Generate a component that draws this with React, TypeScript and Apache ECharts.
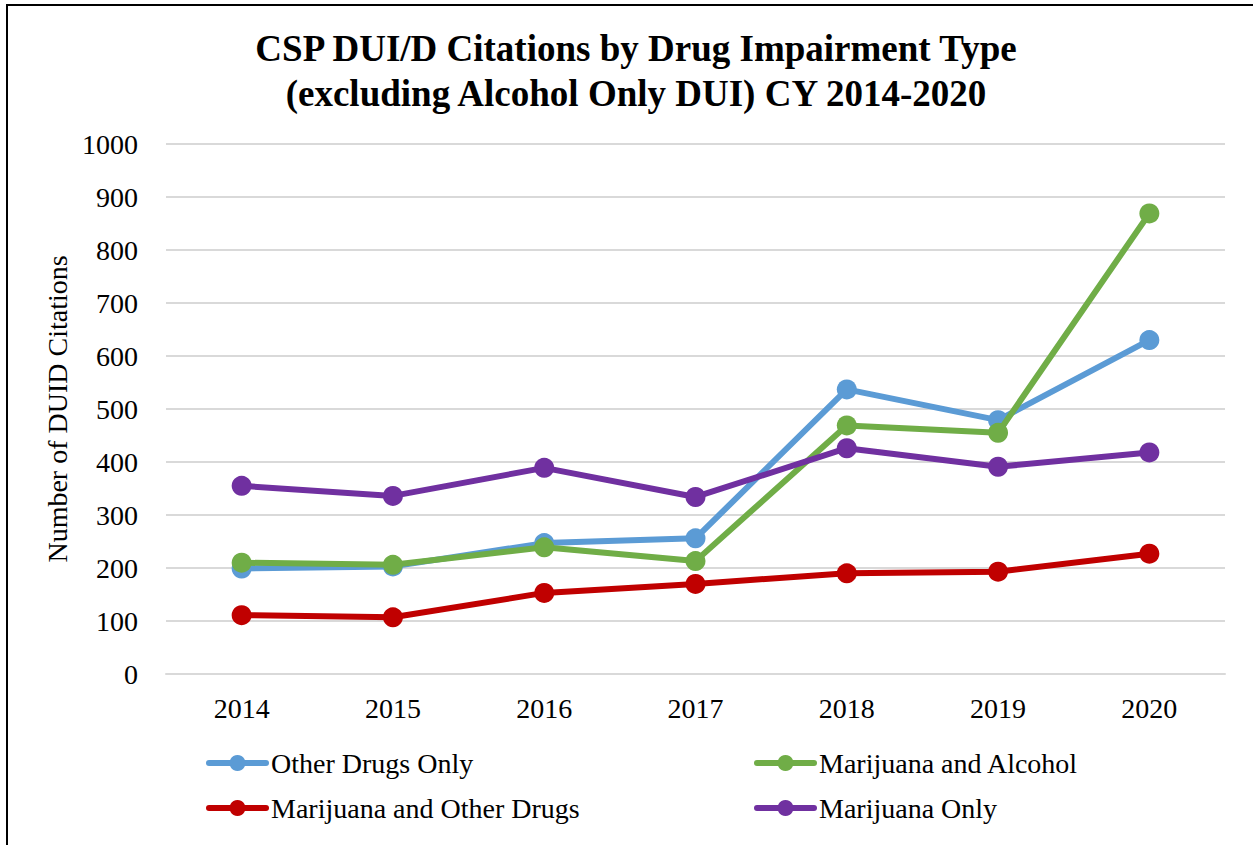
import React, { useEffect, useRef } from "react";
import * as echarts from "echarts";

const years = ["2014", "2015", "2016", "2017", "2018", "2019", "2020"];
const otherDrugsOnly = [199, 203, 247, 256, 537, 479, 630];
const marijuanaAndAlcohol = [210, 206, 239, 213, 469, 455, 869];
const marijuanaAndOtherDrugs = [111, 107, 153, 170, 190, 193, 227];
const marijuanaOnly = [355, 336, 389, 334, 426, 391, 418];

const seriesNames = [
  "Other Drugs Only",
  "Marijuana and Alcohol",
  "Marijuana and Other Drugs",
  "Marijuana Only",
];
const seriesColors = ["#5B9BD5", "#70AD47", "#C00000", "#7030A0"];
const seriesData = [otherDrugsOnly, marijuanaAndAlcohol, marijuanaAndOtherDrugs, marijuanaOnly];

const FONT = "Liberation Serif";

export default function App() {
  const ref = useRef<HTMLDivElement>(null);
  useEffect(() => {
    if (!ref.current) return;
    const chart = echarts.init(ref.current, null, { renderer: "svg" });
    const legendPos = [
      { left: 206, top: 749 },
      { left: 754, top: 749 },
      { left: 206, top: 794 },
      { left: 754, top: 794 },
    ];
    chart.setOption({
      animation: false,
      backgroundColor: "#ffffff",
      textStyle: { fontFamily: FONT },
      title: {
        text: "CSP DUI/D Citations by Drug Impairment Type\n(excluding Alcohol Only DUI) CY 2014-2020",
        left: 631,
        top: 21,
        textAlign: "center",
        textStyle: {
          fontFamily: FONT,
          fontWeight: "bold",
          fontSize: 37,
          lineHeight: 45,
          color: "#000000",
        },
      },
      legend: seriesNames.map((n, i) => ({
        data: [n],
        left: legendPos[i].left,
        top: legendPos[i].top,
        padding: 0,
        itemWidth: 57,
        itemHeight: 20,
        itemGap: 3,
        lineStyle: { width: 6, cap: "round" },
        textStyle: { fontFamily: FONT, fontSize: 28, color: "#000000" },
      })),
      grid: { left: 166, right: 28, top: 144, bottom: 171, containLabel: false },
      xAxis: {
        type: "category",
        data: years,
        boundaryGap: true,
        axisLine: { show: true, lineStyle: { color: "#D9D9D9", width: 2 } },
        axisTick: { show: false },
        axisLabel: { fontFamily: FONT, fontSize: 28, color: "#000000", margin: 20 },
      },
      yAxis: {
        type: "value",
        min: 0,
        max: 1000,
        interval: 100,
        name: "Number of DUID Citations",
        nameLocation: "middle",
        nameGap: 92,
        nameTextStyle: { fontFamily: FONT, fontSize: 28, color: "#000000" },
        axisLine: { show: false },
        axisTick: { show: false },
        axisLabel: {
          fontFamily: FONT,
          fontSize: 28,
          color: "#000000",
          margin: 28,
          formatter: (v: number) => String(v),
        },
        splitLine: { lineStyle: { color: "#D9D9D9", width: 2 } },
      },
      series: seriesNames.map((n, i) => ({
        name: n,
        type: "line",
        data: seriesData[i],
        symbol: "circle",
        symbolSize: 20,
        color: seriesColors[i],
        lineStyle: { width: 6, color: seriesColors[i], cap: "round", join: "round" },
        itemStyle: { color: seriesColors[i] },
        z: 2 + i,
      })),
      graphic: [
        {
          type: "rect",
          shape: { x: 7, y: 5, width: 1300, height: 900 },
          style: { fill: "none", stroke: "#000000", lineWidth: 2 },
          silent: true,
        },
      ],
    });
    return () => chart.dispose();
  }, []);
  return (
    <div
      ref={ref}
      style={{ position: "fixed", left: 0, top: 0, width: 1253, height: 845, background: "#fff" }}
    />
  );
}
